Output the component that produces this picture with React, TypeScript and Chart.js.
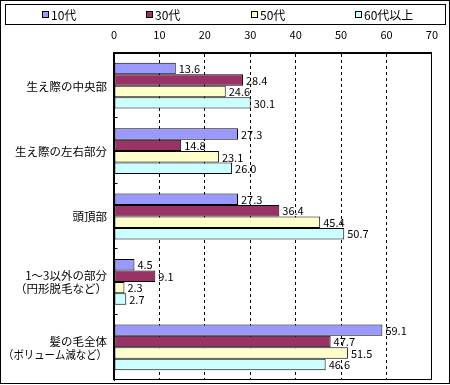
import React, { useEffect, useRef } from "react";
import { Chart, registerables } from "chart.js";

Chart.register(...registerables);

const categories: string[][] = [
  ["生え際の中央部"],
  ["生え際の左右部分"],
  ["頭頂部"],
  ["1～3以外の部分", "（円形脱毛など）"],
  ["髪の毛全体", "（ボリューム減など）"],
];
const seriesNames = ["10代", "30代", "50代", "60代以上"];
const teens = [13.6, 27.3, 27.3, 4.5, 59.1];
const thirties = [28.4, 14.8, 36.4, 9.1, 47.7];
const fifties = [24.6, 23.1, 45.4, 2.3, 51.5];
const sixtiesPlus = [30.1, 26.0, 50.7, 2.7, 46.6];
const axisMin = 0;
const axisMax = 70;
const axisStep = 10;

const seriesColors = ["#9999FF", "#993366", "#FFFFCC", "#CCFFFF"];
const FONT = "'Noto Sans CJK JP', 'Noto Sans', sans-serif";

const decorPlugin = {
  id: "decor",
  afterDatasetsDraw(chart: any) {
    const ctx = chart.ctx;
    ctx.save();
    ctx.font = `11px ${FONT}`;
    ctx.fillStyle = "#000";
    ctx.textBaseline = "middle";
    ctx.textAlign = "left";
    chart.data.datasets.forEach((ds: any, i: number) => {
      const meta = chart.getDatasetMeta(i);
      meta.data.forEach((bar: any, j: number) => {
        ctx.fillText(Number(ds.data[j]).toFixed(1), bar.x + 3, bar.y + 0.5);
      });
    });
    ctx.restore();
  },
  afterDraw(chart: any) {
    const ctx = chart.ctx;
    const area = chart.chartArea;
    const yScale = chart.scales.y;
    ctx.save();
    // plot frame
    ctx.strokeStyle = "#000";
    ctx.lineWidth = 1;
    const l = Math.round(area.left) - 0.5;
    const t = Math.round(area.top) - 0.5;
    const r = Math.round(area.right) - 0.5;
    const b = Math.round(area.bottom) - 0.5;
    ctx.strokeRect(l, t, r - l, b - t);
    // inner category ticks
    ctx.beginPath();
    for (let i = 1; i < categories.length; i++) {
      const yb = Math.round((yScale.getPixelForTick(i - 1) + yScale.getPixelForTick(i)) / 2) - 0.5;
      ctx.moveTo(l, yb);
      ctx.lineTo(l + 4, yb);
    }
    ctx.stroke();
    // category labels
    ctx.font = `11.5px ${FONT}`;
    ctx.fillStyle = "#000";
    ctx.textBaseline = "middle";
    ctx.textAlign = "right";
    const lh = 13.3;
    categories.forEach((lines, i) => {
      const yc = yScale.getPixelForTick(i);
      const y0 = yc - ((lines.length - 1) * lh) / 2;
      lines.forEach((line, k) => {
        ctx.fillText(line, 107, y0 + k * lh + 0.5, 104);
      });
    });
    // legend
    ctx.strokeRect(5.5, 4.5, 440, 20);
    ctx.font = `12px ${FONT}`;
    ctx.textAlign = "left";
    chart.data.datasets.forEach((ds: any, i: number) => {
      const bx = Math.round(42 + i * 104.3);
      ctx.fillStyle = ds.backgroundColor;
      ctx.fillRect(bx, 11, 7, 7);
      ctx.strokeStyle = "#000";
      ctx.strokeRect(bx + 0.5, 11.5, 6, 6);
      ctx.fillStyle = "#000";
      ctx.fillText(ds.label, bx + 9, 15);
    });
    // outer border
    ctx.strokeRect(0.5, 0.5, 449, 383);
    ctx.restore();
  },
};

export default function App() {
  const canvasRef = useRef<HTMLCanvasElement | null>(null);

  useEffect(() => {
    const canvas = canvasRef.current;
    if (!canvas) return;
    const values = [teens, thirties, fifties, sixtiesPlus];
    const chart = new Chart(canvas, {
      type: "bar",
      data: {
        labels: categories.map((c) => c.join(" ")),
        datasets: seriesNames.map((name, i) => ({
          label: name,
          data: values[i],
          backgroundColor: seriesColors[i],
          borderColor: "#000",
          borderWidth: 1,
          borderSkipped: false,
          categoryPercentage: 0.7,
          barPercentage: 1.0,
        })),
      },
      options: {
        indexAxis: "y",
        responsive: false,
        animation: false,
        devicePixelRatio: 1,
        layout: { padding: { left: 0, right: 15, top: 0, bottom: 5 } },
        plugins: {
          legend: { display: false },
          tooltip: { enabled: false },
        },
        scales: {
          x: {
            position: "top",
            min: axisMin,
            max: axisMax,
            ticks: {
              stepSize: axisStep,
              color: "#000",
              font: { family: FONT, size: 11 },
              padding: 12,
            },
            grid: { color: "#000", drawTicks: false, lineWidth: 1 },
            border: { display: true, color: "#000", dash: [3, 3] },
            afterFit: (s: any) => {
              s.height = 53;
            },
          },
          y: {
            type: "category",
            ticks: { display: false },
            grid: { display: false, offset: true },
            border: { display: true, color: "#000" },
            afterFit: (s: any) => {
              s.width = 114;
            },
          },
        },
      },
      plugins: [decorPlugin],
    } as any);
    return () => chart.destroy();
  }, []);

  return (
    <div style={{ position: "fixed", left: 0, top: 0, width: 450, height: 385, background: "#fff" }}>
      <canvas ref={canvasRef} width={450} height={385} style={{ display: "block" }} />
    </div>
  );
}
